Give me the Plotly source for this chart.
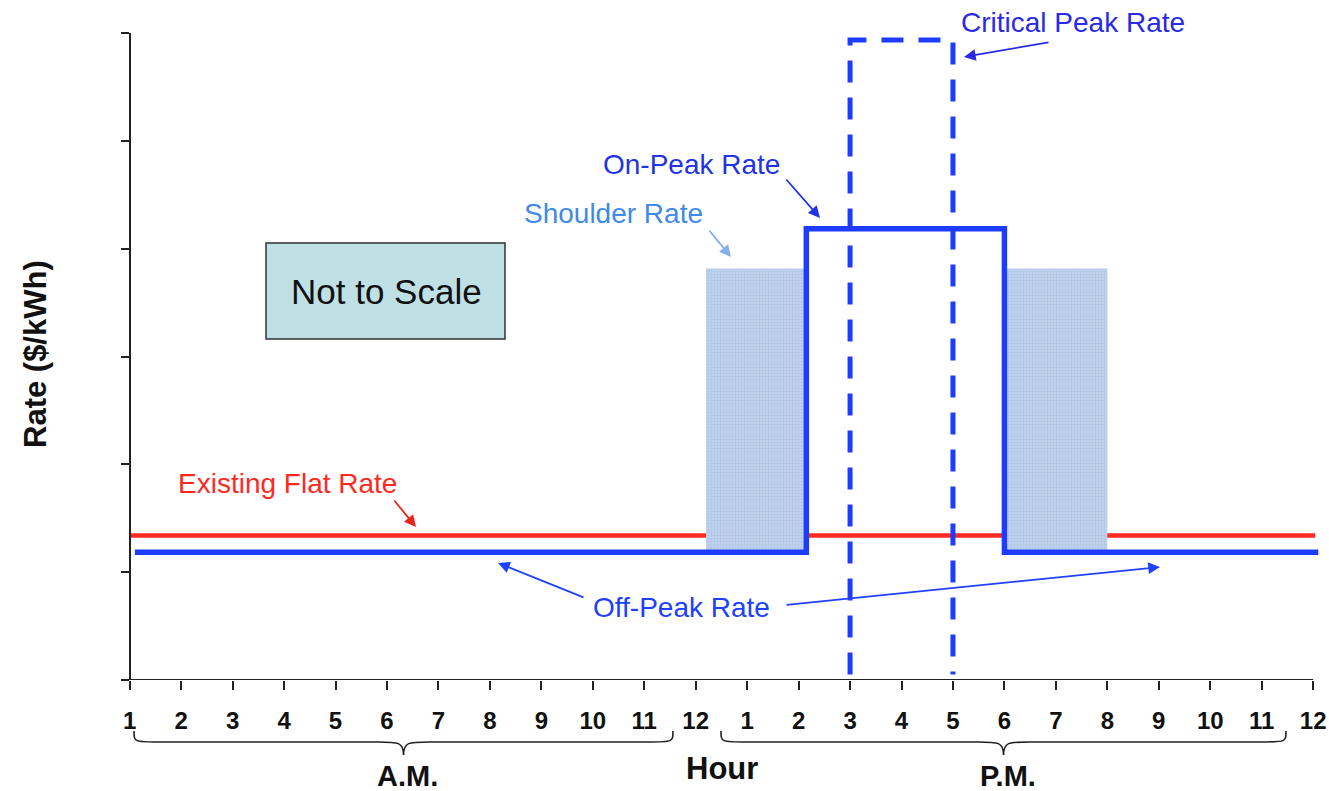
import plotly.graph_objects as go

# ---- data -------------------------------------------------------------
hour_labels = ["1", "2", "3", "4", "5", "6", "7", "8", "9", "10", "11", "12",
               "1", "2", "3", "4", "5", "6", "7", "8", "9", "10", "11", "12"]
hour_index = list(range(len(hour_labels)))

# existing flat tariff
flat_x = [0.0, 23.04]
flat_y = [1.34, 1.34]

# time-of-use tariff: off-peak / on-peak step profile
tou_x = [0.1, 13.15, 13.15, 17.0, 17.0, 23.1]
tou_y = [1.185, 1.185, 4.185, 4.185, 1.185, 1.185]

# shoulder periods either side of the on-peak window
shoulder_am_x = [11.2, 13.15, 13.15, 11.2, 11.2]
shoulder_pm_x = [17.0, 19.0, 19.0, 17.0, 17.0]
shoulder_y = [1.185, 1.185, 3.815, 3.815, 1.185]

# critical peak pricing window
cpp_x = [14.0, 14.0, 16.0, 16.0]
cpp_y = [0.05, 5.935, 5.935, 0.05]

y_ticks = [0, 1, 2, 3, 4, 5, 6]

# ---- styling ----------------------------------------------------------
FONT = "Liberation Sans, Arial, sans-serif"
BLUE = "#1e3cff"
RED = "#ff2a1f"
SHOULDER_TXT = "#3f8ae6"
AXIS = "#222222"

W, H = 1329, 791
X_RANGE = [-0.15, 23.25]
Y_RANGE = [0, 6]
M_L, M_R, M_T, M_B = 122, 3, 33, 111
plot_w = W - M_L - M_R
plot_h = H - M_T - M_B


def px_x(px):
    """pixel column -> x data value"""
    return X_RANGE[0] + (px - M_L) / plot_w * (X_RANGE[1] - X_RANGE[0])


def px_y(py):
    """pixel row -> y data value"""
    return Y_RANGE[1] - (py - M_T) / plot_h * (Y_RANGE[1] - Y_RANGE[0])


def px_paper(px):
    return (px - M_L) / plot_w


def py_paper(py):
    return (H - M_B - py) / plot_h


fig = go.Figure()

fig.add_trace(go.Scatter(x=flat_x, y=flat_y, mode="lines",
                         line=dict(color=RED, width=4.5), hoverinfo="skip"))

for sx in (shoulder_am_x, shoulder_pm_x):
    fig.add_trace(go.Scatter(
        x=sx, y=shoulder_y, mode="lines", fill="toself",
        line=dict(width=0), fillcolor="#b6cbe7",
        fillpattern=dict(shape=".", fgcolor="#9bb6dd", bgcolor="#c3d6ee",
                         size=3, solidity=0.5),
        hoverinfo="skip"))

fig.add_trace(go.Scatter(x=tou_x, y=tou_y, mode="lines",
                         line=dict(color=BLUE, width=5.5), hoverinfo="skip"))

fig.add_trace(go.Scatter(x=cpp_x, y=cpp_y, mode="lines",
                         line=dict(color=BLUE, width=5, dash="22px,15px"),
                         hoverinfo="skip"))

# ---- axes -------------------------------------------------------------
fig.update_xaxes(
    range=X_RANGE, tickvals=hour_index, ticktext=hour_labels,
    showline=False, showgrid=False, zeroline=False,
    ticks="outside", ticklen=9, tickwidth=1.6, tickcolor=AXIS,
    tickfont=dict(family=FONT, size=24, color="#111111", weight="bold"),
    ticklabelstandoff=10, fixedrange=True)

fig.update_yaxes(
    range=Y_RANGE, tickvals=y_ticks, showticklabels=False,
    anchor="free", position=(0 - X_RANGE[0]) / (X_RANGE[1] - X_RANGE[0]),
    showline=True, linewidth=1.8, linecolor=AXIS,
    showgrid=False, zeroline=False,
    ticks="outside", ticklen=8, tickwidth=1.6, tickcolor=AXIS,
    fixedrange=True)

shapes = [
    # horizontal axis line
    dict(type="line", xref="x", yref="y", x0=px_x(123), x1=23, y0=0, y1=0,
         line=dict(color=AXIS, width=1.8)),
    # "Not to Scale" box
    dict(type="rect", xref="x", yref="y",
         x0=px_x(266), x1=px_x(505), y0=px_y(339), y1=px_y(243),
         fillcolor="#bfe0e4", line=dict(color="#333333", width=1.5)),
]


def brace(x0, x1, y_end, y_line, y_tip, q=0.5):
    xm = (x0 + x1) / 2
    return (f"M {x0},{y_end} C {x0},{y_line} {x0},{y_line} {x0 + q},{y_line} "
            f"L {xm - q},{y_line} C {xm - 0.1},{y_line} {xm},{y_line} {xm},{y_tip} "
            f"C {xm},{y_line} {xm + 0.1},{y_line} {xm + q},{y_line} "
            f"L {x1 - q},{y_line} C {x1},{y_line} {x1},{y_line} {x1},{y_end}")


for bx0, bx1 in ((px_x(134), px_x(673)), (px_x(721), px_x(1286))):
    shapes.append(dict(type="path", xref="x", yref="paper",
                       path=brace(bx0, bx1, py_paper(731), py_paper(742),
                                  py_paper(755)),
                       line=dict(color="#222222", width=1.6)))

fig.update_layout(shapes=shapes)

# ---- labels -----------------------------------------------------------
ann = []


def label(text, cx, cy, color, size=28, bold=False, angle=0):
    ann.append(dict(text=text, x=px_paper(cx), y=py_paper(cy),
                    xref="paper", yref="paper",
                    showarrow=False, textangle=angle,
                    font=dict(family=FONT, size=size, color=color,
                              weight="bold" if bold else "normal"),
                    xanchor="center", yanchor="middle"))


def arrow(tail, head, color, width=1.8):
    ann.append(dict(text="", x=px_x(head[0]), y=px_y(head[1]),
                    ax=px_x(tail[0]), ay=px_y(tail[1]),
                    xref="x", yref="y", axref="x", ayref="y",
                    showarrow=True, arrowhead=2, arrowsize=1.3,
                    arrowwidth=width, arrowcolor=color, standoff=0))


label("Critical Peak Rate", 1073, 22, "#2a2ae6")
arrow((1050, 42), (964, 57), "#2a2ae6")

label("On-Peak Rate", 691, 164, "#2233e6")
arrow((785, 178), (820, 218), "#2233e6")

label("Shoulder Rate", 613, 213, SHOULDER_TXT)
arrow((708, 229), (731, 257), "#86aee8")

label("Existing Flat Rate", 287, 483, RED)
arrow((393, 499), (416, 527), "#e8261c")

label("Off-Peak Rate", 681, 607, "#2040ff")
arrow((585, 598), (498, 563), "#2040ff")
arrow((785, 605), (1160, 567), "#2040ff")

label("Not to Scale", 386, 291, "#111111", size=35)

label("Rate ($/kWh)", 35, 354, "#111111", size=31, bold=True, angle=-90)
label("Hour", 722, 768, "#111111", size=31, bold=True)
label("A.M.", 407, 776, "#111111", size=29, bold=True)
label("P.M.", 1008, 776, "#111111", size=29, bold=True)

fig.update_layout(
    annotations=ann,
    width=W, height=H,
    margin=dict(l=M_L, r=M_R, t=M_T, b=M_B, autoexpand=False),
    paper_bgcolor="white", plot_bgcolor="white",
    showlegend=False,
)

fig.write_html("out.html", config={"displayModeBar": False})
